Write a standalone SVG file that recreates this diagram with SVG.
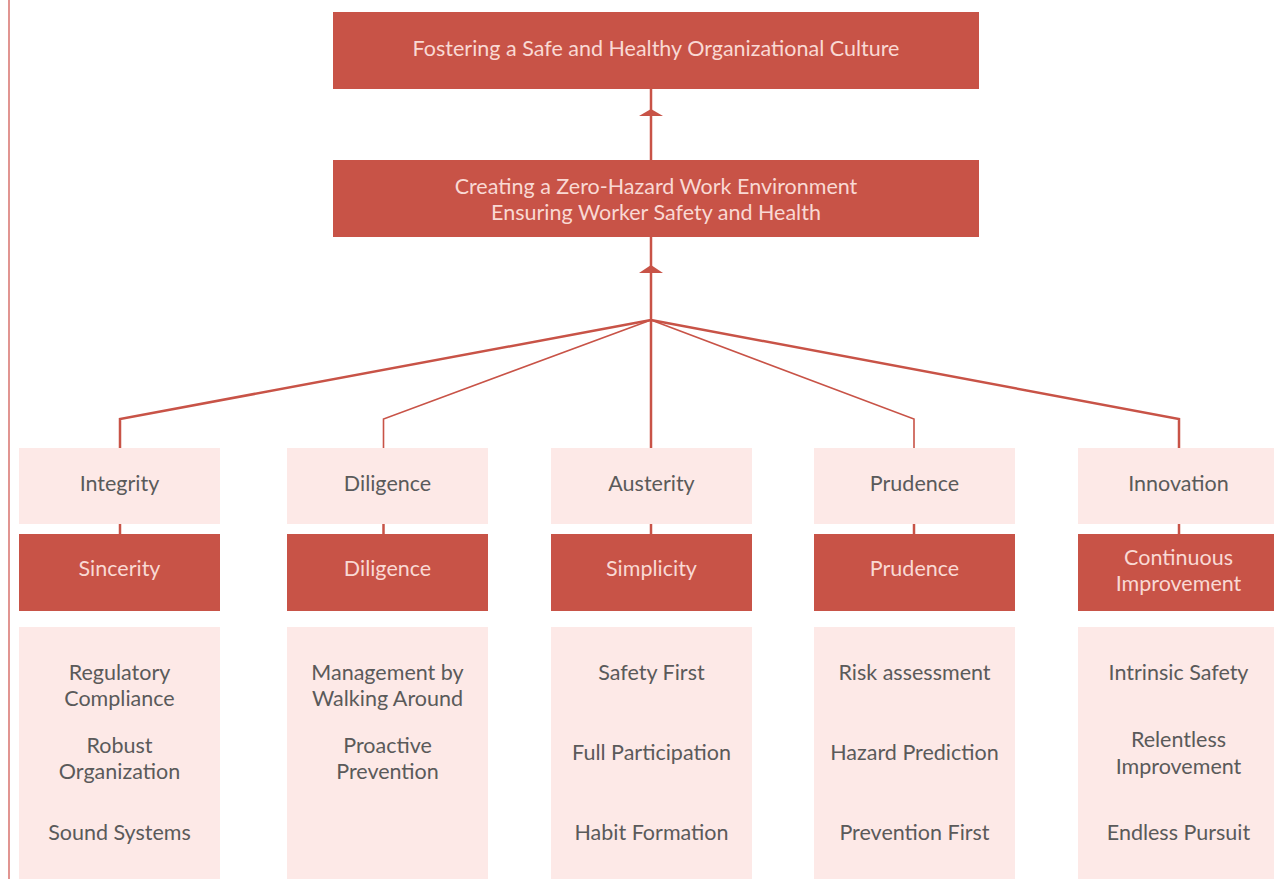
<svg xmlns="http://www.w3.org/2000/svg" width="1274" height="879" viewBox="0 0 1274 879">
<style>
.dark{fill:#c85347}
.light{fill:#fde9e7}
text{font-family:"Lato","Noto Sans",sans-serif;font-weight:400;font-size:21.5px;text-anchor:middle}
.tl{fill:#f9d9d4}
.td{fill:#5a5a5a}
.ln{stroke:#c85347;fill:none}
.thick{stroke-width:2.5}
.thin{stroke-width:1.6}
</style>
<rect width="1274" height="879" fill="#ffffff"/>
<line x1="9" y1="0" x2="9" y2="879" stroke="#de8a86" stroke-width="1.8"/>
<g id="connectors">
<line class="ln thick" x1="651" y1="88" x2="651" y2="160"/>
<polygon points="651,109 663,116 639,116" fill="#c85347"/>
<line class="ln thick" x1="651" y1="236" x2="651" y2="448"/>
<polygon points="651,265 663,273 639,273" fill="#c85347"/>
<polyline class="ln thick" points="651,320 120,419 120,448"/>
<polyline class="ln thin" points="651,320 383.5,419 383.5,448"/>
<polyline class="ln thin" points="651,320 914,419 914,448"/>
<polyline class="ln thick" points="651,320 1179,419 1179,448"/>
<line class="ln thick" x1="120" y1="524" x2="120" y2="534"/>
<line class="ln thick" x1="383.5" y1="524" x2="383.5" y2="534"/>
<line class="ln thick" x1="651" y1="524" x2="651" y2="534"/>
<line class="ln thick" x1="914" y1="524" x2="914" y2="534"/>
<line class="ln thick" x1="1179" y1="524" x2="1179" y2="534"/>
</g>
<g id="goal">
<rect class="dark" x="333" y="12" width="646" height="77"/>
<text class="tl" x="656" y="56">Fostering a Safe and Healthy Organizational Culture</text>
</g>
<g id="objective">
<rect class="dark" x="333" y="160" width="646" height="77"/>
<text class="tl" x="656" y="194">Creating a Zero-Hazard Work Environment</text>
<text class="tl" x="656" y="220">Ensuring Worker Safety and Health</text>
</g>
<g id="integrity">
<rect class="light" x="19" y="448" width="201" height="76"/>
<text class="td" x="119.5" y="491">Integrity</text>
</g>
<g id="sincerity">
<rect class="dark" x="19" y="534" width="201" height="77"/>
<text class="tl" x="119.5" y="576">Sincerity</text>
</g>
<g id="sincerity-items">
<rect class="light" x="19" y="627" width="201" height="252"/>
<text class="td" x="119.5" y="680">Regulatory</text>
<text class="td" x="119.5" y="706">Compliance</text>
<text class="td" x="119.5" y="753">Robust</text>
<text class="td" x="119.5" y="779">Organization</text>
<text class="td" x="119.5" y="840">Sound Systems</text>
</g>
<g id="diligence-top">
<rect class="light" x="287" y="448" width="201" height="76"/>
<text class="td" x="387.5" y="491">Diligence</text>
</g>
<g id="diligence">
<rect class="dark" x="287" y="534" width="201" height="77"/>
<text class="tl" x="387.5" y="576">Diligence</text>
</g>
<g id="diligence-items">
<rect class="light" x="287" y="627" width="201" height="252"/>
<text class="td" x="387.5" y="680">Management by</text>
<text class="td" x="387.5" y="706">Walking Around</text>
<text class="td" x="387.5" y="753">Proactive</text>
<text class="td" x="387.5" y="779">Prevention</text>
</g>
<g id="austerity">
<rect class="light" x="551" y="448" width="201" height="76"/>
<text class="td" x="651.5" y="491">Austerity</text>
</g>
<g id="simplicity">
<rect class="dark" x="551" y="534" width="201" height="77"/>
<text class="tl" x="651.5" y="576">Simplicity</text>
</g>
<g id="simplicity-items">
<rect class="light" x="551" y="627" width="201" height="252"/>
<text class="td" x="651.5" y="680">Safety First</text>
<text class="td" x="651.5" y="760">Full Participation</text>
<text class="td" x="651.5" y="840">Habit Formation</text>
</g>
<g id="prudence-top">
<rect class="light" x="814" y="448" width="201" height="76"/>
<text class="td" x="914.5" y="491">Prudence</text>
</g>
<g id="prudence">
<rect class="dark" x="814" y="534" width="201" height="77"/>
<text class="tl" x="914.5" y="576">Prudence</text>
</g>
<g id="prudence-items">
<rect class="light" x="814" y="627" width="201" height="252"/>
<text class="td" x="914.5" y="680">Risk assessment</text>
<text class="td" x="914.5" y="760">Hazard Prediction</text>
<text class="td" x="914.5" y="840">Prevention First</text>
</g>
<g id="innovation">
<rect class="light" x="1078" y="448" width="201" height="76"/>
<text class="td" x="1178.5" y="491">Innovation</text>
</g>
<g id="continuous-improvement">
<rect class="dark" x="1078" y="534" width="201" height="77"/>
<text class="tl" x="1178.5" y="565">Continuous</text>
<text class="tl" x="1178.5" y="591">Improvement</text>
</g>
<g id="improvement-items">
<rect class="light" x="1078" y="627" width="201" height="252"/>
<text class="td" x="1178.5" y="680">Intrinsic Safety</text>
<text class="td" x="1178.5" y="747">Relentless</text>
<text class="td" x="1178.5" y="774">Improvement</text>
<text class="td" x="1178.5" y="840">Endless Pursuit</text>
</g>
</svg>
